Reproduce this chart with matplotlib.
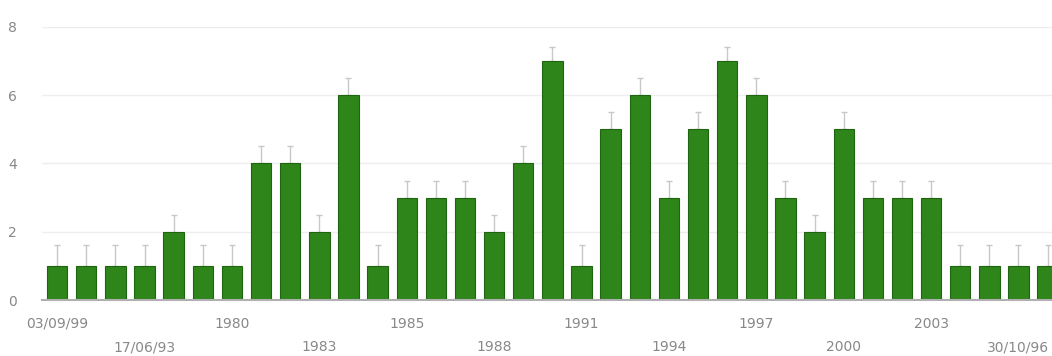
from matplotlib import pyplot as plt

# Bar counts (35 bars)
values = [1, 1, 1, 1, 2, 1, 1, 4, 4, 2, 6, 1, 3, 3, 3, 2, 4, 7,
          1, 5, 6, 3, 5, 7, 6, 3, 2, 5, 3, 3, 3, 1, 1, 1, 1]
# Upper whiskers drawn above each bar
errors = [0.6, 0.6, 0.6, 0.6, 0.5, 0.6, 0.6, 0.5, 0.5, 0.5, 0.5, 0.6,
          0.5, 0.5, 0.5, 0.5, 0.5, 0.4, 0.6, 0.5, 0.5, 0.5, 0.5, 0.4,
          0.5, 0.5, 0.5, 0.5, 0.5, 0.5, 0.5, 0.6, 0.6, 0.6, 0.6]

# Tick labels: two staggered rows, one label every 3 bars
row1_pos = [0, 6, 12, 18, 24, 30]
row1_labels = ['03/09/99', '1980', '1985', '1991', '1997', '2003']
row2_pos = [3, 9, 15, 21, 27, 33]
row2_labels = ['17/06/93', '1983', '1988', '1994', '2000', '30/10/96']
y_ticks = [0, 2, 4, 6, 8]

fig = plt.figure(figsize=(10.52, 3.56), dpi=100)
ax = fig.add_axes([42 / 1052, 1 - 300 / 356, 1 - 42 / 1052, 273 / 356])

x = list(range(len(values)))
ax.bar(x, values, width=0.7, color='#2e8519', edgecolor='#1f6410', linewidth=0.8, zorder=3)
ax.errorbar(x, values, yerr=[[0] * len(values), errors], fmt='none',
            ecolor='#c8c8c8', elinewidth=1, capsize=2.5, zorder=2)

ax.set_xlim(-0.52, 34.15)
ax.set_ylim(0, 8)

# Staggered x labels: majors on the first row, minors further down
ax.set_xticks(row1_pos)
ax.set_xticklabels(row1_labels)
ax.set_xticks(row2_pos, minor=True)
ax.set_xticklabels(row2_labels, minor=True)
ax.tick_params(axis='x', which='major', length=0, pad=12, labelsize=10, labelcolor='#888888')
ax.tick_params(axis='x', which='minor', length=0, pad=29, labelsize=10, labelcolor='#888888')

ax.set_yticks(y_ticks)
ax.tick_params(axis='y', length=0, pad=18, labelsize=10, labelcolor='#888888')
ax.grid(axis='y', color='#eeeeee', linewidth=1, zorder=0)

for side in ['top', 'right', 'left']:
    ax.spines[side].set_visible(False)
ax.spines['bottom'].set_color('#b0b0b0')
ax.spines['bottom'].set_linewidth(1.5)
ax.spines['bottom'].set_zorder(4)

fig.savefig('out.png', dpi=100)
